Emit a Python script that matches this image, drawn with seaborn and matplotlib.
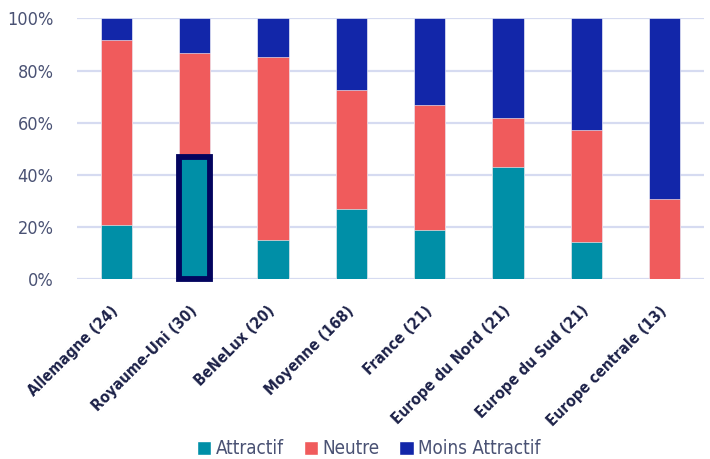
import matplotlib
matplotlib.use('Agg')
import matplotlib.pyplot as plt
from matplotlib.patches import Patch, Rectangle
import numpy as np
import pandas as pd
import seaborn as sns

CATEGORIES = ['Allemagne (24)', 'Royaume-Uni (30)', 'BeNeLux (20)', 'Moyenne (168)',
              'France (21)', 'Europe du Nord (21)', 'Europe du Sud (21)', 'Europe centrale (13)']
ATTRACTIF = [20.8, 46.7, 15.0, 26.8, 19.0, 42.9, 14.3, 0.0]
NEUTRE    = [70.8, 40.0, 70.0, 45.8, 47.6, 19.0, 42.9, 30.8]
MOINS     = [8.4, 13.3, 15.0, 27.4, 33.4, 38.1, 42.8, 69.2]
SERIES    = ['Attractif', 'Neutre', 'Moins Attractif']
HIGHLIGHT = 'Royaume-Uni (30)'

C_ATTR, C_NEUT, C_MOINS = '#008FA7', '#F05B5C', '#1226A9'
C_TICK, C_XLAB, C_GRID = '#4A5274', '#1C2148', '#D6DBF1'

sns.set_theme(style='white')
plt.rcParams['font.family'] = ['DejaVu Sans Condensed', 'DejaVu Sans']
plt.rcParams['font.stretch'] = 'condensed'

df = pd.DataFrame({'cat': CATEGORIES, 'a': ATTRACTIF, 'n': NEUTRE, 'm': MOINS})
df['an'] = df['a'] + df['n']
df['anm'] = df['an'] + df['m']

fig = plt.figure(figsize=(7.10, 4.59), dpi=100)
ax = fig.add_axes([77/710, 1 - 279.3/459, 627/710, 261/459])

ax.yaxis.grid(True, color=C_GRID, lw=1.6, zorder=0)
ax.set_axisbelow(True)
kw = dict(x='cat', order=CATEGORIES, width=0.4, ax=ax, edgecolor='white', linewidth=0.4, zorder=3)
sns.barplot(data=df, y='anm', color=C_MOINS, saturation=1, **kw)
sns.barplot(data=df, y='an', color=C_NEUT, saturation=1, **kw)
sns.barplot(data=df, y='a', color=C_ATTR, saturation=1, **kw)

i = CATEGORIES.index(HIGHLIGHT)
ax.add_patch(Rectangle((i - 0.2, 0), 0.4, ATTRACTIF[i], fill=False,
                       edgecolor='#03045E', lw=4.2, zorder=5, clip_on=False))

ax.set_xlim(-0.5, 7.5)
ax.set_ylim(0, 100)
ax.set_yticks(np.arange(0, 101, 20))
ax.set_yticklabels([f'{v}%' for v in range(0, 101, 20)], fontsize=13, color=C_TICK)
ax.set_xticks(range(len(CATEGORIES)))
ax.set_xticklabels(CATEGORIES, rotation=45, ha='right', va='center', rotation_mode='anchor',
                   fontsize=11.2, fontweight='bold', color=C_XLAB)
ax.tick_params(axis='y', length=0, pad=17)
ax.tick_params(axis='x', length=0, pad=21)
ax.set_xlabel('')
ax.set_ylabel('')
for s in ax.spines.values():
    s.set_visible(False)

handles = [Patch(facecolor=c, label=l) for c, l in zip([C_ATTR, C_NEUT, C_MOINS], SERIES)]
leg = fig.legend(handles=handles, loc='center', bbox_to_anchor=(369/710, 1 - 449/459), ncol=3,
                 frameon=False, fontsize=13.5, handlelength=0.75, handleheight=0.75,
                 handletextpad=0.25, columnspacing=1.05)
for t in leg.get_texts():
    t.set_color(C_TICK)

fig.savefig('out.png', dpi=100)
